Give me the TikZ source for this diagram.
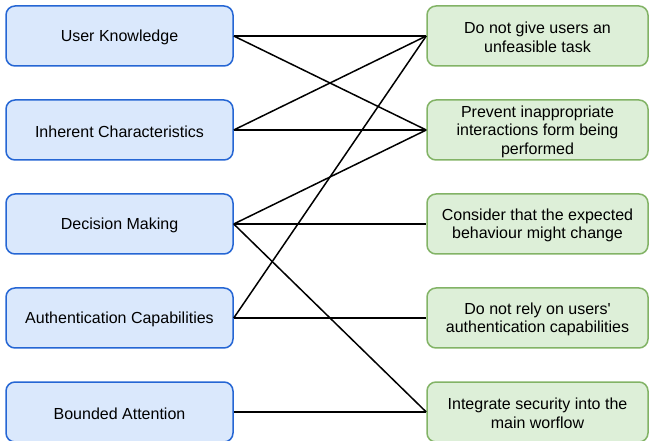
\documentclass[tikz,border=0pt]{standalone}
\usepackage{fontspec}
\setmainfont{Liberation Sans}
\definecolor{lfill}{HTML}{DAE8FC}
\definecolor{lline}{HTML}{2566D4}
\definecolor{rfill}{HTML}{DDEFD8}
\definecolor{rline}{HTML}{82B366}
\begin{document}
\begin{tikzpicture}[x=1pt,y=-1pt,
  txt/.style={align=center,inner sep=0pt,yshift=-1.5pt,font=\fontsize{16}{18.5}\selectfont},
  lbox/.style={draw=lline,fill=lfill,line width=1.5pt,rounded corners=9pt,minimum width=227pt,minimum height=60pt,inner sep=0pt},
  rbox/.style={draw=rline,fill=rfill,line width=1.5pt,rounded corners=9pt,minimum width=221pt,minimum height=60pt,inner sep=0pt},
  link/.style={draw=black,line width=1.5pt}]
\useasboundingbox (0,0) rectangle (649,441);
\node[lbox,label={[txt]center:User Knowledge}] (L1) at (119.5,36) {};
\node[lbox,label={[txt]center:Inherent Characteristics}] (L2) at (119.5,130) {};
\node[lbox,label={[txt]center:Decision Making}] (L3) at (119.5,224) {};
\node[lbox,label={[txt]center:Authentication Capabilities}] (L4) at (119.5,318) {};
\node[lbox,label={[txt]center:Bounded Attention}] (L5) at (119.5,412) {};
\node[rbox,label={[txt]center:{Do not give users an\\unfeasible task}}] (R1) at (537.5,36) {};
\node[rbox,label={[txt]center:{Prevent inappropriate\\interactions form being\\performed}}] (R2) at (537.5,130) {};
\node[rbox,label={[txt]center:{Consider that the expected\\behaviour might change}}] (R3) at (537.5,224) {};
\node[rbox,label={[txt]center:{Do not rely on users\textquotesingle\\authentication capabilities}}] (R4) at (537.5,318) {};
\node[rbox,label={[txt]center:{Integrate security into the\\main worflow}}] (R5) at (537.5,412) {};
\draw[link] (L1.east) -- (R1.west);
\draw[link] (L1.east) -- (R2.west);
\draw[link] (L2.east) -- (R1.west);
\draw[link] (L2.east) -- (R2.west);
\draw[link] (L3.east) -- (R2.west);
\draw[link] (L3.east) -- (R3.west);
\draw[link] (L3.east) -- (R5.west);
\draw[link] (L4.east) -- (R1.west);
\draw[link] (L4.east) -- (R4.west);
\draw[link] (L5.east) -- (R5.west);
\end{tikzpicture}
\end{document}
